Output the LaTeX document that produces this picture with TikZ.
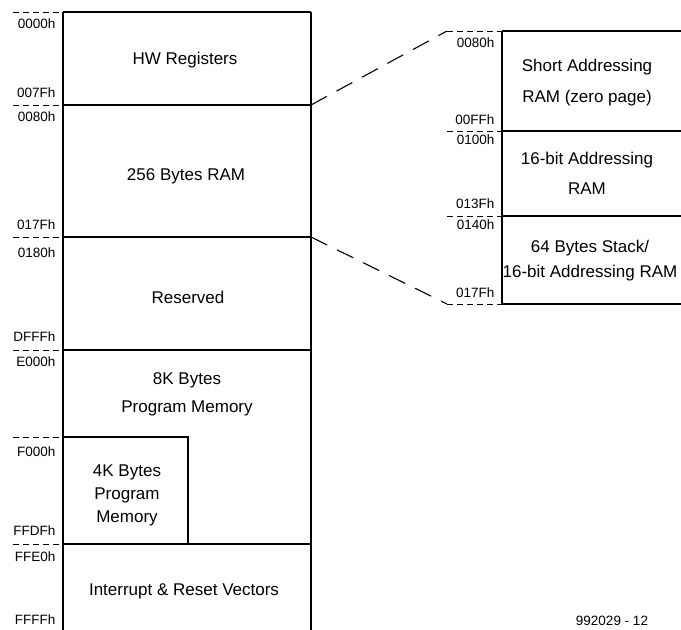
\documentclass[tikz,border=0pt]{standalone}
\usepackage{fontspec}
\setmainfont{Liberation Sans}
\begin{document}
\begin{tikzpicture}[x=1pt,y=-1pt,line width=1.1pt,
  addr/.style={font=\fontsize{13.5}{15}\selectfont,anchor=east,inner sep=0pt},
  area/.style={font=\fontsize{17}{20}\selectfont,inner sep=0pt,align=center},
  tick/.style={line width=0.8pt,dash pattern=on 6pt off 4pt},
  zoomline/.style={line width=1.1pt,dash pattern=on 18pt off 11pt}]

\def\xL{63}  % left map
\def\xR{311}
\def\xS{188} % 4K block edge
\def\xA{502} % right map
\def\xE{681}

\useasboundingbox (0,0) rectangle (681,630);

% left memory map
\draw (\xL,12) -- (\xL,630);
\draw (\xR,12) -- (\xR,630);
\foreach \y in {12,105,237,350,544} \draw (\xL,\y) -- (\xR,\y);
\draw (\xL,437) -- (\xS,437) -- (\xS,544);
\foreach \y in {12,105,237,350,437,544} \draw[tick] (13,\y) -- (\xL,\y);

% right (zoomed) map
\draw (\xA,31) -- (\xA,304);
\foreach \y in {31,131,216,304} \draw (\xA,\y) -- (\xE,\y);
\foreach \y in {31,131,216,304} \draw[tick] (447,\y) -- (\xA,\y);

% zoom connectors
\coordinate (ramtop) at (\xR,105);
\coordinate (rambot) at (\xR,237);
\coordinate (zoomtop) at (447,31);
\coordinate (zoombot) at (447,304);
\draw[zoomline] (ramtop) -- (zoomtop);
\draw[zoomline] (rambot) -- (zoombot);

% areas
\node[area] (hwreg) at (185,60)  {HW Registers};
\node[area] (ram)   at (186,176) {256 Bytes RAM};
\node[area] (resv)  at (188,297) {Reserved};
\node[area] (prog8) at (187,394) {8K Bytes\\[8pt]Program Memory};
\node[area] (prog4) at (127,495) {4K Bytes\\[3pt]Program\\[3pt]Memory};
\node[area] (vect)  at (184,591) {Interrupt \& Reset Vectors};

\node[area] (zpage) at (587,83)  {Short Addressing\\[11pt]RAM (zero page)};
\node[area] (ram16) at (587,173) {16-bit Addressing\\[10pt]RAM};
\node[area] (stack) at (590,261) {64 Bytes Stack/\\[5pt]16-bit Addressing RAM};

% addresses, left
\node[addr] (a0000) at (56,24)  {0000h};
\node[addr] (a007F) at (56,93)  {007Fh};
\node[addr] (a0080) at (56,117) {0080h};
\node[addr] (a017F) at (56,225) {017Fh};
\node[addr] (a0180) at (56,253) {0180h};
\node[addr] (aDFFF) at (56,337) {DFFFh};
\node[addr] (aE000) at (56,362) {E000h};
\node[addr] (aF000) at (56,452) {F000h};
\node[addr] (aFFDF) at (56,531) {FFDFh};
\node[addr] (aFFE0) at (56,557) {FFE0h};
\node[addr] (aFFFF) at (56,620) {FFFFh};

% addresses, right
\node[addr] (z0080) at (495,43)  {0080h};
\node[addr] (z00FF) at (495,120) {00FFh};
\node[addr] (z0100) at (495,140) {0100h};
\node[addr] (z013F) at (495,204) {013Fh};
\node[addr] (z0140) at (495,225) {0140h};
\node[addr] (z017F) at (495,293) {017Fh};

\node[font=\fontsize{13.5}{15}\selectfont,inner sep=0pt] (figno) at (612,621) {992029 - 12};
\end{tikzpicture}
\end{document}
